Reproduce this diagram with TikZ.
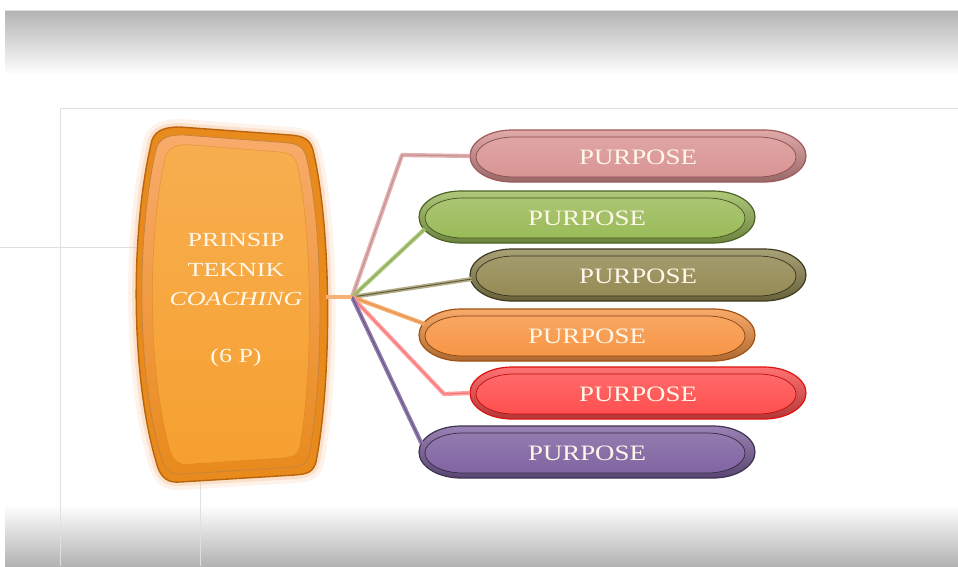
\documentclass[tikz,border=0pt]{standalone}
\usepackage{fontspec}
\setmainfont{Liberation Serif}
\newfontfamily\widefont[FakeStretch=1.22]{Liberation Serif}
\newfontfamily\titlefont[FakeStretch=1.3]{Liberation Serif}
\usetikzlibrary{calc}
\definecolor{txt}{HTML}{FFF8EA}
\definecolor{cpink}{HTML}{D99594}
\definecolor{dpink}{HTML}{A05A5A}
\definecolor{cgreen}{HTML}{9BBB59}
\definecolor{dgreen}{HTML}{4F6228}
\definecolor{colive}{HTML}{948A54}
\definecolor{dolive}{HTML}{3E3A20}
\definecolor{corange}{HTML}{F79646}
\definecolor{dorange}{HTML}{A05010}
\definecolor{cred}{HTML}{FF4F4F}
\definecolor{dred}{HTML}{E01010}
\definecolor{cpurple}{HTML}{8064A2}
\definecolor{dpurple}{HTML}{3F3151}
\definecolor{boxface}{HTML}{F6A030}
\definecolor{boxrim}{HTML}{E88A1C}
\definecolor{boxedge}{HTML}{B8650E}
\tikzset{
  pillbox/.style={rectangle, minimum width=336pt, minimum height=52pt, inner sep=0pt},
  pilltext/.style={font=\widefont\fontsize{22}{22}\selectfont, text=txt, inner sep=0pt},
  conn/.style={line width=4.2pt, line join=round},
  connmid/.style={line width=1pt, line join=round},
  grid/.style={draw=black!12, line width=0.8pt},
}
\def\pillpath#1#2#3{(-#1+#3,-#2) -- (#1-#3,-#2) arc[start angle=-90,end angle=90,x radius=#3,y radius=#2]
  -- (-#1+#3,#2) arc[start angle=90,end angle=270,x radius=#3,y radius=#2] -- cycle}
\newcommand\pill[5]{%
  \node[pillbox] (#1) at (#2,#3) {};
  \begin{scope}[shift={(#1.center)}]
    \shade[top color=#4!80!white, bottom color=#4!70!black, draw=#5, line width=1.2pt] \pillpath{168}{26}{42};
    \shade[top color=#4!85!white, bottom color=#4, draw=#5!85!black, line width=0.7pt, shift={(-2,1)}] \pillpath{160}{20}{38};
  \end{scope}
  \node[pilltext] (#1t) at ($(#1)+(0,1)$) {PURPOSE};
}
\def\barrel{(-52,-177) -- (58,-169) .. controls (73,-168) and (78,-164) .. (81,-154)
  .. controls (100,-74) and (100,76) .. (84,158) .. controls (81,168) and (76,170) .. (63,171)
  -- (-52,178) .. controls (-64,179) and (-70,174) .. (-74,164)
  .. controls (-102,76) and (-102,-74) .. (-80,-164) .. controls (-76,-174) and (-67,-177) .. (-52,-177) -- cycle}
\begin{document}
\begin{tikzpicture}[x=1pt,y=-1pt]
\useasboundingbox (0,0) rectangle (958,566);
\fill[white] (0,0) rectangle (958,566);
% background bands
\shade[top color=black!30, middle color=black!8, bottom color=white] (5,10) rectangle (958,75);
\draw[black!12, line width=1pt] (5,10.5) -- (958,10.5);
\shade[top color=white, middle color=black!8, bottom color=black!30] (5,505) rectangle (958,566);
% faint grid lines
\draw[grid] (60,108) -- (958,108);
\draw[grid] (60,108) -- (60,566);
\draw[grid] (0,247) -- (140,247);
\draw[grid] (200,478) -- (200,566);
% central box glow
\begin{scope}[shift={(232,304)}]
  \draw[corange!60, line width=16pt, opacity=0.18] \barrel;
  \draw[corange!70, line width=8pt, opacity=0.3] \barrel;
  \fill[boxrim] \barrel;
  \draw[boxedge, line width=1.4pt] \barrel;
\end{scope}
\begin{scope}[shift={(231,304)}, xscale=0.93, yscale=0.955]
  \shade[top color=corange!80!white, bottom color=boxrim] \barrel;
  \draw[boxedge!80, line width=0.8pt] \barrel;
\end{scope}
\begin{scope}[shift={(231,304)}, xscale=0.82, yscale=0.9]
  \shade[top color=boxface!85!white, bottom color=boxface] \barrel;
  \draw[boxrim!90!black, line width=0.5pt, opacity=0.5] \barrel;
\end{scope}
\node[text=txt, align=center, font=\titlefont\fontsize{20}{29.5}\selectfont] (title) at (236,300)
  {PRINSIP\\TEKNIK\\\textit{COACHING}\\[27pt](6 P)};
\coordinate (boxR) at (326,297);
\coordinate (hub) at (352,297);
% pills
\pill{p1}{638}{156}{cpink}{dpink}
\pill{p2}{587}{217}{cgreen}{dgreen}
\pill{p3}{638}{275}{colive}{dolive}
\pill{p4}{587}{335}{corange}{dorange}
\pill{p5}{638}{393}{cred}{dred}
\pill{p6}{587}{452}{cpurple}{dpurple}
% connectors
\coordinate (k1) at (402,155);
\coordinate (k5) at (444,394);
\draw[conn, cpink!75] (hub) -- (k1) -- (p1.west);
\draw[connmid, cpink!60!black, opacity=0.35] (hub) -- (k1) -- (p1.west);
\draw[conn, cgreen!80] (hub) -- ($(p2.west)+(6,12)$);
\draw[connmid, dgreen, opacity=0.35] (hub) -- ($(p2.west)+(6,12)$);
\draw[conn, colive!70] (hub) -- ($(p3.west)+(2,4)$);
\draw[connmid, dolive, opacity=0.7] (hub) -- ($(p3.west)+(2,4)$);
\draw[conn, corange!80] (hub) -- ($(p4.west)+(6,-11)$);
\draw[connmid, dorange, opacity=0.25] (hub) -- ($(p4.west)+(6,-11)$);
\draw[conn, cred!55] (hub) -- (k5) -- (p5.west);
\draw[connmid, dred, opacity=0.3] (hub) -- (k5) -- (p5.west);
\draw[conn, cpurple!85] (hub) -- ($(p6.west)+(3,-8)$);
\draw[connmid, dpurple, opacity=0.5] (hub) -- ($(p6.west)+(3,-8)$);
\draw[conn, corange!75] (boxR) -- (hub);
\end{tikzpicture}
\end{document}
